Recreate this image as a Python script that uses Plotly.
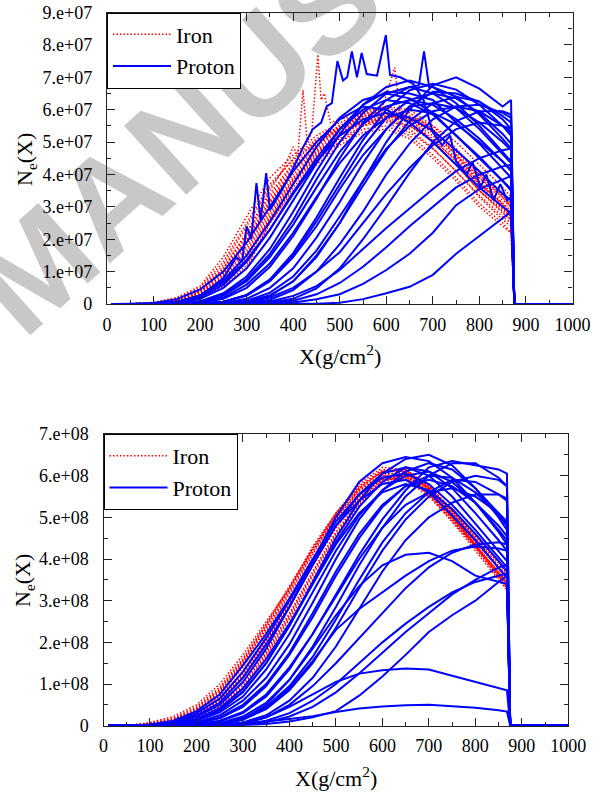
import plotly.graph_objects as go

W, H = 602, 793

# common depth grid (g/cm^2); last two points = ground drop and flat zero
X_GRID = [10, 50, 100, 150, 200, 250, 300, 350, 400, 450, 500, 550, 600, 650, 700, 750, 800, 850, 868, 875, 1000]

# ---------------- TOP PANEL (values in units of 1e7) ----------------
top_iron_01 = [0, 0, 0.05, 0.2, 0.55, 1.45, 2.7, 3.9, 4.6, 5.2, 5.6, 5.9, 5.9, 5.6, 5.1, 4.4, 3.7, 3.1, 2.9, 0, 0]
top_iron_02 = [0, 0, 0.03, 0.15, 0.45, 1.2, 2.4, 3.6, 4.5, 5.1, 5.5, 5.8, 5.9, 5.7, 5.3, 4.6, 3.9, 3.2, 3.0, 0, 0]
top_iron_03 = [0, 0, 0.02, 0.12, 0.4, 1.05, 2.1, 3.3, 4.3, 4.9, 5.4, 5.7, 5.8, 5.6, 5.0, 4.3, 3.5, 2.8, 2.6, 0, 0]
top_iron_04 = [0, 0, 0.02, 0.1, 0.35, 0.9, 1.9, 3.1, 4.1, 4.8, 5.4, 5.8, 6.0, 5.8, 5.4, 4.7, 3.9, 3.3, 3.0, 0, 0]
top_iron_05 = [0, 0, 0.01, 0.08, 0.3, 0.8, 1.7, 2.9, 3.9, 4.7, 5.2, 5.6, 5.7, 5.4, 4.8, 4.1, 3.3, 2.6, 2.4, 0, 0]
top_iron_06 = [0, 0, 0.01, 0.07, 0.25, 0.7, 1.5, 2.7, 3.8, 4.6, 5.2, 5.6, 5.8, 5.7, 5.3, 4.6, 3.8, 3.1, 2.8, 0, 0]
top_iron_07 = [0, 0, 0.01, 0.06, 0.22, 0.6, 1.35, 2.6, 3.7, 4.5, 5.0, 5.4, 5.5, 5.2, 4.6, 3.9, 3.1, 2.5, 2.2, 0, 0]
top_iron_08 = [0, 0, 0.01, 0.05, 0.2, 0.55, 1.2, 2.5, 3.6, 4.4, 5.0, 5.5, 5.8, 5.8, 5.5, 5.0, 4.3, 3.6, 3.3, 0, 0]
top_iron_09 = [0, 0, 0.01, 0.05, 0.18, 0.5, 1.1, 2.5, 3.5, 4.3, 4.9, 5.3, 5.4, 5.1, 4.5, 3.8, 3.0, 2.4, 2.2, 0, 0]
top_iron_10 = [0, 0, 0.02, 0.1, 0.38, 1.0, 2.0, 3.2, 4.2, 5.0, 5.5, 5.9, 6.1, 6.0, 5.5, 4.8, 4.0, 3.3, 3.0, 0, 0]
top_iron_11 = [0, 0, 0.03, 0.13, 0.42, 1.1, 2.2, 3.4, 4.35, 5.05, 5.45, 5.75, 5.85, 5.65, 5.2, 4.5, 3.75, 3.05, 2.8, 0, 0]
top_iron_12 = [0, 0, 0.02, 0.09, 0.32, 0.85, 1.8, 3.0, 4.0, 4.75, 5.3, 5.65, 5.75, 5.5, 5.0, 4.3, 3.5, 2.85, 2.6, 0, 0]
top_iron_13 = [0, 0, 0.01, 0.07, 0.27, 0.75, 1.6, 2.8, 3.85, 4.65, 5.25, 5.7, 5.9, 5.75, 5.35, 4.75, 4.0, 3.35, 3.1, 0, 0]
top_iron_14 = [0, 0, 0.04, 0.17, 0.5, 1.3, 2.5, 3.7, 4.45, 5.0, 5.4, 5.6, 5.6, 5.3, 4.8, 4.1, 3.35, 2.7, 2.5, 0, 0]
top_iron_15 = [0, 0, 0.01, 0.06, 0.24, 0.65, 1.45, 2.65, 3.75, 4.55, 5.1, 5.5, 5.65, 5.5, 5.05, 4.45, 3.65, 2.95, 2.7, 0, 0]
top_iron_16 = [0, 0, 0.02, 0.11, 0.36, 0.95, 1.95, 3.15, 4.15, 4.9, 5.45, 5.85, 6.05, 5.9, 5.4, 4.6, 3.75, 3.0, 2.75, 0, 0]

top_iron_spike_x = [10, 100, 150, 200, 250, 300, 350, 380, 400, 410, 421, 430, 440, 453, 460, 467, 480, 500, 530, 560,
                    590, 618, 630, 660, 700, 750, 800, 850, 868, 875, 1000]
top_iron_spike_v = [0, 0.02, 0.12, 0.4, 1.1, 2.2, 3.5, 4.2, 4.85, 4.6, 6.6, 5.0, 5.3, 7.7, 6.3, 6.5, 5.6, 5.7, 5.8, 6.0,
                    6.0, 7.3, 5.9, 5.6, 5.0, 4.3, 3.5, 2.9, 2.7, 0, 0]

top_proton_spike_x = [10, 100, 150, 200, 250, 278, 290, 300, 310, 321, 330, 342, 350, 375, 400, 420, 442, 460, 472, 483,
                      495, 507, 516, 526, 537, 547, 558, 580, 599, 608, 630, 658, 680, 700, 720, 737, 750, 773, 785, 802,
                      815, 830, 845, 860, 868, 875, 1000]
top_proton_spike_v = [0, 0.01, 0.05, 0.25, 0.8, 1.45, 1.3, 2.4, 2.0, 3.73, 2.6, 4.04, 2.9, 3.5, 4.2, 4.8, 5.4, 5.6, 6.1, 6.2,
                      7.5, 6.9, 7.0, 7.8, 7.0, 7.75, 7.1, 7.05, 8.3, 7.07, 7.0, 6.8, 6.3, 5.3, 4.9, 5.2, 4.4, 4.0, 4.4, 3.6,
                      4.0, 3.2, 3.7, 3.2, 3.3, 0, 0]
top_proton_spike2_x = [10, 50, 100, 150, 200, 250, 300, 350, 400, 450, 500, 550, 600, 650, 670, 681, 692, 700, 750, 800,
                       850, 868, 875, 1000]
top_proton_spike2_v = [0, 0, 0, 0.005, 0.03, 0.16, 0.5, 1.15, 2.1, 3.25, 4.5, 5.6, 6.3, 6.7, 6.75, 7.8, 6.7, 6.7, 6.4, 5.85,
                       5.1, 4.8, 0, 0]

top_proton_02 = [0, 0, 0.01, 0.07, 0.27, 0.73, 1.5, 2.55, 3.7, 4.85, 5.75, 6.3, 6.5, 6.35, 5.9, 5.2, 4.5, 3.8, 3.5, 0, 0]
top_proton_03 = [0, 0, 0.005, 0.03, 0.16, 0.5, 1.1, 2.05, 3.2, 4.35, 5.4, 6.15, 6.55, 6.5, 6.3, 5.6, 4.95, 4.2, 3.9, 0, 0]
top_proton_04 = [0, 0, 0, 0.01, 0.07, 0.28, 0.76, 1.55, 2.6, 3.85, 5.0, 5.9, 6.5, 6.7, 6.5, 6.05, 5.4, 4.65, 4.35, 0, 0]
top_proton_05 = [0, 0, 0, 0.01, 0.07, 0.26, 0.7, 1.45, 2.45, 3.6, 4.7, 5.55, 6.1, 6.3, 6.15, 5.7, 5.1, 4.4, 4.1, 0, 0]
top_proton_07 = [0, 0, 0, 0, 0.01, 0.07, 0.27, 0.73, 1.5, 2.55, 3.7, 4.85, 5.75, 6.3, 6.5, 6.35, 5.9, 5.25, 4.95, 0, 0]
top_proton_08 = [0, 0, 0, 0, 0.01, 0.07, 0.26, 0.7, 1.45, 2.4, 3.55, 4.6, 5.4, 6.1, 6.2, 6.05, 5.6, 5.0, 4.75, 0, 0]
top_proton_09 = [0, 0, 0, 0, 0.005, 0.03, 0.16, 0.5, 1.1, 2.05, 3.15, 4.35, 5.4, 6.1, 6.55, 6.5, 6.25, 5.7, 5.4, 0, 0]
top_proton_10 = [0, 0, 0, 0, 0, 0.01, 0.07, 0.27, 0.7, 1.5, 2.5, 3.65, 4.75, 5.65, 6.2, 6.4, 6.25, 5.8, 5.6, 0, 0]
top_proton_11 = [0, 0, 0, 0, 0, 0.01, 0.06, 0.25, 0.7, 1.45, 2.5, 3.8, 5.0, 6.0, 6.75, 7.0, 6.65, 6.1, 6.3, 0, 0]
top_proton_12 = [0, 0, 0, 0, 0, 0, 0.03, 0.13, 0.43, 1.0, 1.85, 2.85, 4.0, 4.95, 5.7, 6.1, 6.15, 5.9, 5.75, 0, 0]
top_proton_13 = [0, 0, 0, 0, 0, 0, 0.01, 0.05, 0.16, 0.48, 1.1, 2.0, 3.0, 4.05, 5.0, 5.65, 5.95, 5.95, 5.85, 0, 0]
top_proton_15 = [0, 0, 0, 0, 0, 0, 0.06, 0.2, 0.5, 1.0, 1.6, 2.5, 3.4, 4.2, 4.9, 5.4, 5.6, 5.5, 5.4, 0, 0]
top_proton_16 = [0, 0, 0, 0, 0, 0, 0, 0.01, 0.05, 0.15, 0.3, 0.62, 1.05, 1.55, 2.2, 3.05, 3.55, 3.85, 3.95, 0, 0]
top_proton_17 = [0, 0, 0, 0, 0, 0, 0, 0, 0, 0.01, 0.04, 0.15, 0.33, 0.53, 0.9, 1.55, 2.1, 2.65, 2.85, 0, 0]
top_proton_18 = [0, 0, 0, 0, 0, 0, 0.02, 0.08, 0.25, 0.55, 1.05, 1.7, 2.35, 2.95, 3.55, 4.1, 4.5, 4.75, 4.8, 0, 0]
top_proton_19 = [0, 0, 0, 0, 0, 0, 0, 0.03, 0.1, 0.3, 0.65, 1.15, 1.75, 2.4, 3.0, 3.6, 4.0, 4.25, 4.3, 0, 0]
top_proton_20 = [0, 0, 0.03, 0.15, 0.45, 1.0, 1.9, 3.0, 4.1, 5.0, 5.7, 6.1, 6.0, 5.6, 5.0, 4.3, 3.6, 3.0, 2.8, 0, 0]
top_proton_21 = [0, 0, 0.01, 0.06, 0.25, 0.67, 1.36, 2.3, 3.4, 4.4, 5.2, 5.7, 5.9, 5.75, 5.35, 4.75, 4.1, 3.4, 3.2, 0, 0]
top_proton_22 = [0, 0, 0, 0.01, 0.05, 0.2, 0.6, 1.25, 2.2, 3.3, 4.35, 5.2, 5.75, 6.0, 5.9, 5.55, 5.0, 4.4, 4.15, 0, 0]
top_proton_23 = [0, 0, 0, 0.01, 0.09, 0.33, 0.85, 1.7, 2.85, 4.1, 5.25, 6.15, 6.7, 6.9, 6.7, 6.2, 5.5, 4.7, 4.4, 0, 0]
top_proton_24 = [0, 0, 0, 0, 0.01, 0.07, 0.28, 0.76, 1.57, 2.67, 3.9, 5.07, 6.0, 6.6, 6.8, 6.62, 6.15, 5.5, 5.2, 0, 0]
top_proton_25 = [0, 0, 0, 0, 0, 0.02, 0.1, 0.35, 0.85, 1.65, 2.7, 3.8, 4.8, 5.5, 5.95, 6.1, 5.95, 5.5, 5.3, 0, 0]
top_proton_26 = [0, 0, 0.01, 0.04, 0.2, 0.6, 1.3, 2.3, 3.45, 4.5, 5.4, 6.0, 6.3, 6.2, 5.85, 5.2, 4.55, 3.8, 3.55, 0, 0]

# ---------------- BOTTOM PANEL (values in units of 1e8) ----------------
bot_iron_01 = [0, 0, 0.08, 0.22, 0.5, 1.0, 1.7, 2.5, 3.3, 4.2, 5.0, 5.6, 5.95, 5.9, 5.5, 4.9, 4.3, 3.7, 3.45, 0, 0]
bot_iron_02 = [0, 0, 0.05, 0.15, 0.4, 0.85, 1.55, 2.4, 3.3, 4.3, 5.1, 5.75, 6.1, 6.1, 5.7, 5.15, 4.55, 3.95, 3.7, 0, 0]
bot_iron_03 = [0, 0, 0.04, 0.12, 0.33, 0.75, 1.4, 2.25, 3.15, 4.1, 5.0, 5.7, 6.1, 6.15, 5.75, 5.2, 4.6, 3.95, 3.7, 0, 0]
bot_iron_04 = [0, 0, 0.03, 0.1, 0.28, 0.65, 1.25, 2.05, 2.95, 3.9, 4.8, 5.5, 5.95, 6.0, 5.6, 5.0, 4.35, 3.7, 3.45, 0, 0]
bot_iron_05 = [0, 0, 0.03, 0.09, 0.25, 0.58, 1.15, 1.95, 2.85, 3.85, 4.8, 5.55, 6.0, 6.1, 5.7, 5.05, 4.35, 3.65, 3.4, 0, 0]
bot_iron_06 = [0, 0, 0.02, 0.08, 0.22, 0.5, 1.0, 1.8, 2.7, 3.7, 4.65, 5.4, 5.9, 6.0, 5.65, 5.0, 4.3, 3.6, 3.3, 0, 0]
bot_iron_07 = [0, 0, 0.02, 0.07, 0.2, 0.45, 0.9, 1.7, 2.6, 3.6, 4.55, 5.35, 5.85, 6.05, 5.75, 5.15, 4.5, 3.85, 3.6, 0, 0]
bot_iron_08 = [0, 0, 0.02, 0.06, 0.18, 0.42, 0.86, 1.65, 2.55, 3.5, 4.5, 5.3, 5.8, 5.95, 5.55, 4.9, 4.2, 3.5, 3.25, 0, 0]
bot_iron_09 = [0, 0, 0.04, 0.13, 0.35, 0.8, 1.5, 2.35, 3.25, 4.2, 5.1, 5.8, 6.2, 6.15, 5.65, 5.0, 4.3, 3.6, 3.35, 0, 0]
bot_iron_10 = [0, 0, 0.03, 0.1, 0.3, 0.7, 1.3, 2.15, 3.05, 4.0, 4.95, 5.65, 6.05, 6.05, 5.6, 4.95, 4.25, 3.55, 3.3, 0, 0]
bot_iron_11 = [0, 0, 0.06, 0.18, 0.45, 0.92, 1.62, 2.45, 3.35, 4.25, 5.05, 5.65, 6.0, 6.0, 5.6, 5.0, 4.4, 3.8, 3.55, 0, 0]
bot_iron_12 = [0, 0, 0.03, 0.1, 0.27, 0.62, 1.2, 2.0, 2.9, 3.85, 4.75, 5.5, 5.95, 6.05, 5.7, 5.1, 4.45, 3.8, 3.55, 0, 0]
bot_iron_13 = [0, 0, 0.02, 0.07, 0.21, 0.48, 0.95, 1.75, 2.65, 3.65, 4.6, 5.35, 5.85, 6.0, 5.65, 5.05, 4.35, 3.65, 3.4, 0, 0]
bot_iron_14 = [0, 0, 0.04, 0.14, 0.37, 0.82, 1.5, 2.3, 3.2, 4.15, 5.05, 5.75, 6.15, 6.1, 5.7, 5.1, 4.45, 3.8, 3.55, 0, 0]
bot_iron_15 = [0, 0, 0.03, 0.09, 0.26, 0.6, 1.18, 1.98, 2.88, 3.85, 4.75, 5.45, 5.9, 5.95, 5.55, 4.95, 4.3, 3.6, 3.35, 0, 0]
bot_iron_16 = [0, 0, 0.05, 0.16, 0.42, 0.88, 1.58, 2.42, 3.3, 4.25, 5.1, 5.7, 6.1, 6.15, 5.75, 5.15, 4.5, 3.9, 3.65, 0, 0]

bot_proton_01 = [0, 0, 0.03, 0.12, 0.35, 0.75, 1.45, 2.2, 3.05, 4.0, 4.9, 5.55, 5.95, 6.05, 5.8, 5.3, 4.7, 4.05, 3.8, 0, 0]
bot_proton_02 = [0, 0, 0.02, 0.08, 0.25, 0.55, 1.15, 1.95, 2.85, 3.85, 4.8, 5.55, 6.05, 6.2, 6.0, 5.5, 4.85, 4.2, 3.95, 0, 0]
bot_proton_03 = [0, 0, 0.02, 0.07, 0.22, 0.5, 1.05, 1.85, 2.85, 3.95, 5.0, 5.85, 6.3, 6.45, 6.35, 5.95, 5.35, 4.65, 4.35, 0, 0]
bot_proton_04 = [0, 0, 0, 0.03, 0.12, 0.32, 0.7, 1.35, 2.2, 3.2, 4.2, 5.05, 5.65, 6.0, 6.1, 5.85, 5.35, 4.7, 4.45, 0, 0]
bot_proton_05 = [0, 0, 0, 0.02, 0.08, 0.25, 0.6, 1.15, 1.95, 2.95, 4.0, 4.95, 5.65, 6.1, 6.3, 6.15, 5.7, 5.1, 4.85, 0, 0]
bot_proton_06 = [0, 0, 0, 0.01, 0.05, 0.18, 0.45, 0.95, 1.7, 2.6, 3.6, 4.5, 5.25, 5.75, 6.0, 5.95, 5.6, 5.05, 4.8, 0, 0]
bot_proton_07 = [0, 0, 0, 0, 0.02, 0.1, 0.3, 0.7, 1.35, 2.2, 3.15, 4.1, 4.95, 5.65, 6.2, 6.35, 6.25, 6.15, 6.05, 0, 0]
bot_proton_08 = [0, 0, 0, 0, 0.01, 0.06, 0.22, 0.55, 1.1, 1.9, 2.85, 3.85, 4.75, 5.5, 6.0, 6.3, 6.3, 5.95, 5.75, 0, 0]
bot_proton_09 = [0, 0, 0.01, 0.05, 0.17, 0.42, 0.9, 1.6, 2.45, 3.4, 4.35, 5.1, 5.6, 5.8, 5.65, 5.2, 4.6, 3.95, 3.7, 0, 0]
bot_proton_10 = [0, 0, 0.01, 0.04, 0.14, 0.36, 0.8, 1.5, 2.4, 3.45, 4.5, 5.4, 6.05, 6.4, 6.5, 6.25, 5.7, 5.0, 4.7, 0, 0]
bot_proton_11 = [0, 0, 0, 0, 0.03, 0.12, 0.33, 0.75, 1.4, 2.2, 3.1, 4.0, 4.75, 5.3, 5.6, 5.7, 5.5, 5.1, 4.9, 0, 0]
bot_proton_12 = [0, 0, 0, 0, 0, 0.04, 0.15, 0.4, 0.85, 1.5, 2.35, 3.3, 4.2, 4.95, 5.5, 5.85, 6.0, 5.9, 5.75, 0, 0]
bot_proton_13 = [0, 0, 0, 0, 0, 0.02, 0.08, 0.25, 0.6, 1.15, 1.9, 2.8, 3.7, 4.45, 5.0, 5.35, 5.55, 5.55, 5.45, 0, 0]
bot_proton_14 = [0, 0, 0, 0, 0.02, 0.05, 0.15, 0.5, 1.1, 1.85, 2.65, 3.35, 3.85, 4.1, 4.15, 3.95, 3.6, 3.45, 3.4, 0, 0]
bot_proton_15 = [0, 0, 0, 0, 0, 0, 0.01, 0.04, 0.1, 0.2, 0.35, 0.72, 1.18, 1.7, 2.25, 2.65, 3.0, 3.45, 3.6, 0, 0]
bot_proton_16 = [0, 0, 0, 0, 0, 0, 0.02, 0.08, 0.22, 0.45, 0.8, 1.25, 1.75, 2.25, 2.7, 3.15, 3.5, 3.8, 3.85, 0, 0]
bot_proton_17 = [0, 0, 0, 0, 0, 0.02, 0.05, 0.2, 0.45, 0.75, 1.05, 1.25, 1.33, 1.37, 1.35, 1.2, 1.05, 0.9, 0.85, 0, 0]
bot_proton_18 = [0, 0, 0, 0, 0, 0.02, 0.06, 0.1, 0.16, 0.23, 0.33, 0.41, 0.46, 0.49, 0.5, 0.47, 0.43, 0.37, 0.34, 0, 0]
bot_proton_19 = [0, 0, 0, 0, 0, 0, 0.03, 0.12, 0.3, 0.6, 1.0, 1.5, 2.0, 2.45, 2.85, 3.2, 3.45, 3.6, 3.65, 0, 0]
bot_proton_20 = [0, 0, 0.01, 0.04, 0.15, 0.38, 0.82, 1.5, 2.4, 3.4, 4.4, 5.25, 5.85, 6.2, 6.1, 5.7, 5.1, 4.45, 4.2, 0, 0]
bot_proton_21 = [0, 0, 0.02, 0.1, 0.3, 0.65, 1.3, 2.1, 3.0, 3.95, 4.8, 5.4, 5.8, 5.9, 5.6, 5.05, 4.45, 3.8, 3.55, 0, 0]
bot_proton_22 = [0, 0, 0, 0.01, 0.06, 0.2, 0.5, 1.0, 1.75, 2.7, 3.7, 4.6, 5.3, 5.75, 5.9, 5.75, 5.35, 4.8, 4.55, 0, 0]
bot_proton_23 = [0, 0, 0, 0, 0.01, 0.05, 0.18, 0.45, 0.95, 1.65, 2.55, 3.5, 4.4, 5.1, 5.6, 5.9, 5.85, 5.55, 5.4, 0, 0]
bot_proton_24 = [0, 0, 0, 0, 0, 0.01, 0.05, 0.2, 0.5, 0.95, 1.5, 2.1, 2.7, 3.3, 3.8, 4.15, 4.35, 4.4, 4.35, 0, 0]
bot_proton_25 = [0, 0, 0, 0, 0.01, 0.04, 0.14, 0.42, 0.9, 1.55, 2.3, 2.8, 3.2, 3.6, 3.95, 4.2, 4.3, 4.25, 4.2, 0, 0]

TOP_IRON = [top_iron_01, top_iron_02, top_iron_03, top_iron_04, top_iron_05, top_iron_06, top_iron_07, top_iron_08,
            top_iron_09, top_iron_10, top_iron_11, top_iron_12, top_iron_13, top_iron_14, top_iron_15, top_iron_16]
TOP_PROTON = [top_proton_02, top_proton_03, top_proton_04, top_proton_05, top_proton_07, top_proton_08,
              top_proton_09, top_proton_10, top_proton_11, top_proton_12, top_proton_13, top_proton_15,
              top_proton_16, top_proton_17, top_proton_18, top_proton_19, top_proton_20, top_proton_21,
              top_proton_22, top_proton_23, top_proton_24, top_proton_25, top_proton_26]
BOT_IRON = [bot_iron_01, bot_iron_02, bot_iron_03, bot_iron_04, bot_iron_05, bot_iron_06, bot_iron_07, bot_iron_08,
            bot_iron_09, bot_iron_10, bot_iron_11, bot_iron_12, bot_iron_13, bot_iron_14, bot_iron_15, bot_iron_16]
BOT_PROTON = [bot_proton_01, bot_proton_02, bot_proton_03, bot_proton_04, bot_proton_05, bot_proton_06,
              bot_proton_07, bot_proton_08, bot_proton_09, bot_proton_10, bot_proton_11, bot_proton_12,
              bot_proton_13, bot_proton_14, bot_proton_15, bot_proton_16, bot_proton_17, bot_proton_18,
              bot_proton_19, bot_proton_20, bot_proton_21, bot_proton_22, bot_proton_23, bot_proton_24,
              bot_proton_25]

TOP_UNIT = 1e7
BOT_UNIT = 1e8
X_TICKS = [0, 100, 200, 300, 400, 500, 600, 700, 800, 900, 1000]
TOP_YTICKS = [0, 1, 2, 3, 4, 5, 6, 7, 8, 9]
TOP_YLABELS = ["0", "1.e+07", "2.e+07", "3.e+07", "4.e+07", "5.e+07", "6.e+07", "7.e+07", "8.e+07", "9.e+07"]
BOT_YTICKS = [0, 1, 2, 3, 4, 5, 6, 7]
BOT_YLABELS = ["0", "1.e+08", "2.e+08", "3.e+08", "4.e+08", "5.e+08", "6.e+08", "7.e+08"]

RED = "#ff0000"
BLUE = "#0000ff"
SERIF = "Liberation Serif, Times New Roman, Times, serif"

fig = go.Figure()


def add(xs, vals, unit, kind, xa, ya, legend, show):
    iron = kind == "Iron"
    fig.add_trace(go.Scatter(
        x=xs, y=[v * unit for v in vals], mode="lines",
        line=dict(color=RED if iron else BLUE, width=1.5 if iron else 2.0,
                  dash="1.5px,2px" if iron else "solid"),
        name=kind, legendgroup=kind + legend, showlegend=show,
        legend=legend, xaxis=xa, yaxis=ya, hoverinfo="skip"))


# top panel
for i, c in enumerate(TOP_IRON):
    add(X_GRID, c, TOP_UNIT, "Iron", "x", "y", "legend", i == 0)
add(top_iron_spike_x, top_iron_spike_v, TOP_UNIT, "Iron", "x", "y", "legend", False)
for i, c in enumerate(TOP_PROTON):
    add(X_GRID, c, TOP_UNIT, "Proton", "x", "y", "legend", i == 0)
add(top_proton_spike2_x, top_proton_spike2_v, TOP_UNIT, "Proton", "x", "y", "legend", False)
add(top_proton_spike_x, top_proton_spike_v, TOP_UNIT, "Proton", "x", "y", "legend", False)

# bottom panel
for i, c in enumerate(BOT_IRON):
    add(X_GRID, c, BOT_UNIT, "Iron", "x2", "y2", "legend2", i == 0)
for i, c in enumerate(BOT_PROTON):
    add(X_GRID, c, BOT_UNIT, "Proton", "x2", "y2", "legend2", i == 0)

AX = "#222222"


def xaxis(domain, anchor):
    return dict(domain=domain, anchor=anchor, range=[0, 1000], tickvals=X_TICKS, automargin=False,
                showline=True, linecolor=AX, linewidth=1.3, mirror="ticks",
                ticks="inside", ticklen=8, tickwidth=1.2, tickcolor=AX,
                showgrid=False, zeroline=False, ticklabelstandoff=4,
                tickfont=dict(family=SERIF, size=18, color="black"),
                minor=dict(ticks="inside", ticklen=4, tickwidth=1.0, tickcolor=AX, dtick=50, showgrid=False))


def yaxis(domain, anchor, top, vals, labels, unit):
    return dict(domain=domain, anchor=anchor, range=[0, top * unit], automargin=False,
                tickvals=[v * unit for v in vals], ticktext=labels,
                showline=True, linecolor=AX, linewidth=1.3, mirror="ticks",
                ticks="inside", ticklen=8, tickwidth=1.2, tickcolor=AX,
                showgrid=False, zeroline=False, ticklabelstandoff=10,
                tickfont=dict(family=SERIF, size=18, color="black"),
                minor=dict(ticks="inside", ticklen=4, tickwidth=1.0, tickcolor=AX, dtick=0.5 * unit, showgrid=False))


top_x = [107 / W, 572.5 / W]
top_y = [1 - 304 / H, 1 - 12.5 / H]
bot_x = [103.5 / W, 568.3 / W]
bot_y = [1 - 725.7 / H, 1 - 434 / H]

legend_common = dict(xanchor="left", yanchor="top", bgcolor="white", bordercolor="black", borderwidth=1,
                     font=dict(family=SERIF, size=22, color="black"), tracegroupgap=0, itemwidth=58)

# watermark (centre of the word on the page, in pixels) and its direction
wm_cx, wm_cy = 318 / W, 1 + 4 / H
wm_dx, wm_dy = 74.3 / W, 66.9 / H

fig.update_layout(
    width=W, height=H, margin=dict(l=0, r=0, t=0, b=0, autoexpand=False),
    font=dict(family=SERIF, size=18, color="black"),
    paper_bgcolor="white", plot_bgcolor="white",
    xaxis=xaxis(top_x, "y"), yaxis=yaxis(top_y, "x", 9, TOP_YTICKS, TOP_YLABELS, TOP_UNIT),
    xaxis2=xaxis(bot_x, "y2"), yaxis2=yaxis(bot_y, "x2", 7, BOT_YTICKS, BOT_YLABELS, BOT_UNIT),
    legend=dict(x=top_x[0], y=top_y[1], **legend_common),
    legend2=dict(x=bot_x[0], y=bot_y[1], **legend_common),
    shapes=[dict(type="line", xref="paper", yref="paper",
                 x0=wm_cx - wm_dx, y0=wm_cy - wm_dy, x1=wm_cx + wm_dx, y1=wm_cy + wm_dy,
                 line=dict(color="rgba(0,0,0,0)", width=0), layer="below",
                 label=dict(text="<b>MANUSCRIPT</b>", textposition="middle",
                            xanchor="center", yanchor="middle",
                            font=dict(family="Liberation Sans", size=135, color="#c8c8c8")))],
    annotations=[
        dict(text="X(g/cm<sup>2</sup>)", x=340 / W, y=1 - 355 / H, xref="paper", yref="paper",
             showarrow=False, xanchor="center", yanchor="middle", font=dict(family=SERIF, size=22, color="black")),
        dict(text="X(g/cm<sup>2</sup>)", x=336 / W, y=1 - 777 / H, xref="paper", yref="paper",
             showarrow=False, xanchor="center", yanchor="middle", font=dict(family=SERIF, size=22, color="black")),
        dict(text="N<sub>e</sub>(X)", x=26 / W, y=1 - 160 / H, xref="paper", yref="paper", textangle=-90,
             showarrow=False, xanchor="center", yanchor="middle", font=dict(family=SERIF, size=22, color="black")),
        dict(text="N<sub>e</sub>(X)", x=24 / W, y=1 - 581 / H, xref="paper", yref="paper", textangle=-90,
             showarrow=False, xanchor="center", yanchor="middle", font=dict(family=SERIF, size=22, color="black")),
    ],
)

fig.write_html("out.html", config={"displayModeBar": False},
               post_script="document.body.style.margin='0';")
